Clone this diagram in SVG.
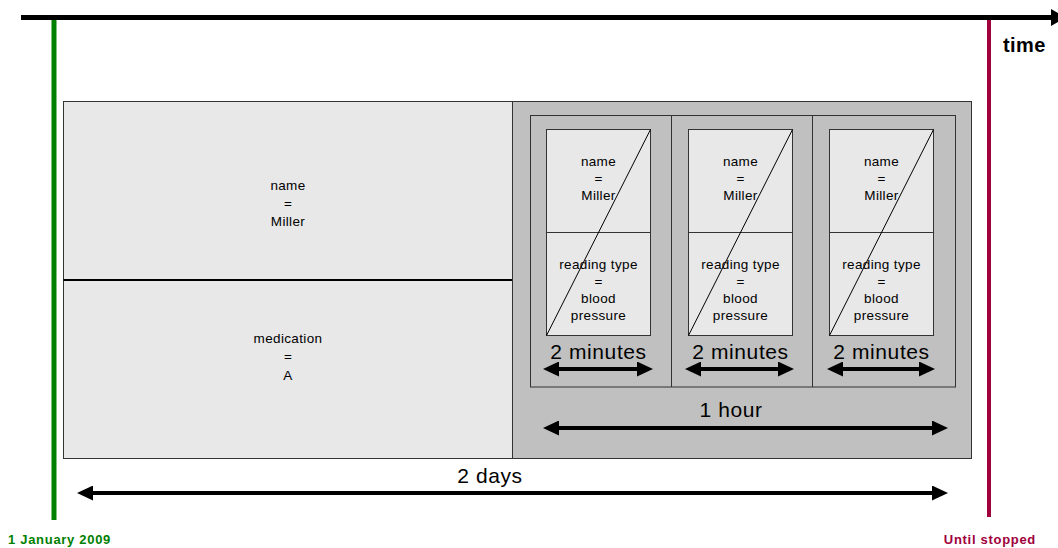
<svg xmlns="http://www.w3.org/2000/svg" width="1058" height="548" viewBox="0 0 1058 548">
<style>
text{font-family:"Liberation Sans",Arial,sans-serif;fill:#000}
.s{font-size:13.5px;letter-spacing:0.35px;text-anchor:middle}
.m{font-size:21px;letter-spacing:0.6px;text-anchor:middle}
.b{font-size:13px;letter-spacing:0.7px;font-weight:bold}
.box{fill:#e8e8e8;stroke:#333;stroke-width:1}
.gray{fill:#c0c0c0;stroke:#333;stroke-width:1}
.frame{fill:none;stroke:#333;stroke-width:1}
.arr{stroke:#000;stroke-width:4;fill:none;marker-start:url(#ah);marker-end:url(#ah)}
</style>
<defs>
<marker id="ah" markerUnits="userSpaceOnUse" viewBox="0 0 16 15" markerWidth="16" markerHeight="15" refX="7" refY="7.5" orient="auto-start-reverse">
<path d="M0,0 L16,7.5 L0,15 Z" fill="#000"/>
</marker>
<marker id="ahTop" markerUnits="userSpaceOnUse" viewBox="0 0 15 17" markerWidth="15" markerHeight="17" refX="6" refY="8.5" orient="auto">
<path d="M0,0 L15,8.5 L0,17 Z" fill="#000"/>
</marker>
</defs>
<g id="timeline">
<line x1="21" y1="17.5" x2="1057" y2="17.5" stroke="#000" stroke-width="5" marker-end="url(#ahTop)"/>
<text x="1003" y="52" font-size="20" font-weight="bold" letter-spacing="0.4">time</text>
</g>
<g id="start">
<line x1="54" y1="20" x2="54" y2="520" stroke="#008000" stroke-width="5"/>
<text class="b" x="8" y="544" style="fill:#008000">1 January 2009</text>
</g>
<g id="end">
<line x1="989" y1="20" x2="989" y2="517" stroke="#a0003c" stroke-width="4"/>
<text class="b" x="1036" y="544" text-anchor="end" style="fill:#a0003c">Until stopped</text>
</g>
<g id="left-box">
<rect class="box" x="63.5" y="101.5" width="449" height="357"/>
<line x1="63.5" y1="280" x2="512.5" y2="280" stroke="#000" stroke-width="2"/>
<text class="s" x="288" y="190">name</text>
<text class="s" x="288" y="208">=</text>
<text class="s" x="288" y="226">Miller</text>
<text class="s" x="288" y="343">medication</text>
<text class="s" x="288" y="361">=</text>
<text class="s" x="288" y="380">A</text>
</g>
<g id="right-box">
<rect class="gray" x="512.5" y="101.5" width="459" height="357"/>
<rect class="frame" x="530.5" y="115.5" width="425" height="271.5"/>
<line x1="671.5" y1="115.5" x2="671.5" y2="387" stroke="#333"/>
<line x1="812.5" y1="115.5" x2="812.5" y2="387" stroke="#333"/>
</g>
<g id="reading-1">
<rect class="box" x="546.5" y="129.5" width="104" height="206"/>
<line x1="546.5" y1="232.5" x2="650.5" y2="232.5" stroke="#333"/>
<line x1="546.5" y1="335.5" x2="650.5" y2="129.5" stroke="#000"/>
<text class="s" x="598.5" y="166">name</text>
<text class="s" x="598.5" y="183">=</text>
<text class="s" x="598.5" y="200">Miller</text>
<text class="s" x="598.5" y="269">reading type</text>
<text class="s" x="598.5" y="286">=</text>
<text class="s" x="598.5" y="303">blood</text>
<text class="s" x="598.5" y="320">pressure</text>
<text class="m" x="598.5" y="359">2 minutes</text>
</g>
<g id="reading-2">
<rect class="box" x="688.5" y="129.5" width="104" height="206"/>
<line x1="688.5" y1="232.5" x2="792.5" y2="232.5" stroke="#333"/>
<line x1="688.5" y1="335.5" x2="792.5" y2="129.5" stroke="#000"/>
<text class="s" x="740.5" y="166">name</text>
<text class="s" x="740.5" y="183">=</text>
<text class="s" x="740.5" y="200">Miller</text>
<text class="s" x="740.5" y="269">reading type</text>
<text class="s" x="740.5" y="286">=</text>
<text class="s" x="740.5" y="303">blood</text>
<text class="s" x="740.5" y="320">pressure</text>
<text class="m" x="740.5" y="359">2 minutes</text>
</g>
<g id="reading-3">
<rect class="box" x="829.5" y="129.5" width="104" height="206"/>
<line x1="829.5" y1="232.5" x2="933.5" y2="232.5" stroke="#333"/>
<line x1="829.5" y1="335.5" x2="933.5" y2="129.5" stroke="#000"/>
<text class="s" x="881.5" y="166">name</text>
<text class="s" x="881.5" y="183">=</text>
<text class="s" x="881.5" y="200">Miller</text>
<text class="s" x="881.5" y="269">reading type</text>
<text class="s" x="881.5" y="286">=</text>
<text class="s" x="881.5" y="303">blood</text>
<text class="s" x="881.5" y="320">pressure</text>
<text class="m" x="881.5" y="359">2 minutes</text>
</g>
<g id="labels">
<text class="m" x="731" y="417">1 hour</text>
<text class="m" x="490" y="483">2 days</text>
</g>
<g id="connectors">
<line class="arr" x1="552" y1="369" x2="644" y2="369"/>
<line class="arr" x1="694" y1="369" x2="785" y2="369"/>
<line class="arr" x1="836" y1="369" x2="926" y2="369"/>
<line class="arr" x1="552" y1="428" x2="939" y2="428"/>
<line class="arr" x1="86" y1="493" x2="939" y2="493"/>
</g>
</svg>
